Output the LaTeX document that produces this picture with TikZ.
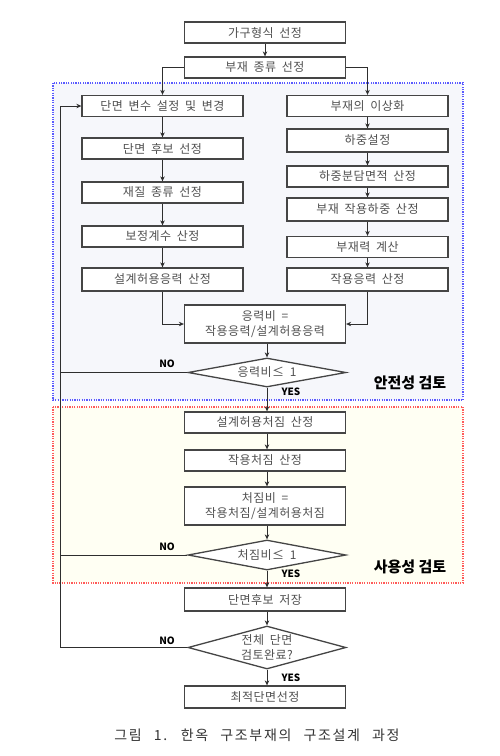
\documentclass[tikz,border=0pt]{standalone}
\usepackage{fontspec}
\setmainfont{Noto Sans CJK KR}
\newfontfamily\capfont[LetterSpace=12, WordSpace=2.5]{Noto Sans CJK KR}
\newfontfamily\boxfont[LetterSpace=4, WordSpace=1.8]{Noto Sans CJK KR}
\usetikzlibrary{arrows.meta,shapes.geometric}
\definecolor{boxline}{HTML}{454545}
\definecolor{boxtext}{HTML}{505050}
\definecolor{lineclr}{HTML}{2E2E2E}
\definecolor{bluefill}{HTML}{F6F7FB}
\definecolor{redfill}{HTML}{FFFFF3}
\definecolor{blueline}{HTML}{5A5AFF}
\definecolor{redline}{HTML}{FF5A5A}
\tikzset{
  procbox/.style={draw=boxline, line width=1.3pt, fill=white, minimum width=161pt, minimum height=21pt, inner sep=0pt, text=boxtext, font=\boxfont\fontsize{12}{14.5}\selectfont, align=center},
  decbox/.style={draw=boxline, line width=1.3pt, fill=white, diamond, inner sep=0pt},
  dectext/.style={text=boxtext, font=\boxfont\fontsize{12}{14.5}\selectfont, align=center, inner sep=0pt},
  flow/.style={draw=lineclr, line width=1pt, -{Stealth[length=5pt,width=4.5pt]}},
  plain/.style={draw=lineclr, line width=1pt},
  yn/.style={font=\bfseries\fontsize{10}{12}\selectfont, text=black, inner sep=0pt},
  region/.style={line width=1.4pt, dash pattern=on 1.2pt off 1.2pt},
  regtitle/.style={font=\bfseries\fontsize{15}{17}\selectfont, text=black, inner sep=0pt},
}
\begin{document}
\begin{tikzpicture}[x=1pt,y=-1pt]
\useasboundingbox (0,0) rectangle (500,756);
\fill[white] (0,0) rectangle (500,756);
% regions
\draw[region, draw=blueline, fill=bluefill] (53,83) rectangle (463,400);
\draw[region, draw=redline, fill=redfill] (53,407) rectangle (463,583);
\node[regtitle] (reg1) at (410,383) {안전성 검토};
\node[regtitle] (reg2) at (410,567) {사용성 검토};
% top
\node[procbox] (t1) at (265,32.5) {가구형식 선정};
\node[procbox] (t2) at (265,67.5) {부재 종류 선정};
% left column
\node[procbox] (l1) at (162.5,106) {단면 변수 설정 및 변경};
\node[procbox] (l2) at (162.5,148.5) {단면 후보 선정};
\node[procbox] (l3) at (162.5,192.5) {재질 종류 선정};
\node[procbox] (l4) at (162.5,236.5) {보정계수 산정};
\node[procbox, minimum height=23pt] (l5) at (162.5,279.5) {설계허용응력 산정};
% right column
\node[procbox] (r1) at (367.5,106) {부재의 이상화};
\node[procbox, minimum height=23pt] (r2) at (367.5,140.5) {하중설정};
\node[procbox] (r3) at (367.5,176.5) {하중분담면적 산정};
\node[procbox, minimum height=23pt] (r4) at (367.5,209.5) {부재 작용하중 산정};
\node[procbox] (r5) at (367.5,247) {부재력 계산};
\node[procbox, minimum height=23pt] (r6) at (367.5,279.5) {작용응력 산정};
% stress ratio
\node[procbox, minimum height=38pt] (s) at (265,324) {응력비 =\\작용응력/설계허용응력};
\node[decbox, minimum width=158pt, minimum height=29pt] (d1) at (267,372.5) {};
\node[dectext] (d1t) at (267,372.5) {응력비≤ 1};
% serviceability
\node[procbox] (b1) at (265,422.5) {설계허용처짐 산정};
\node[procbox] (b2) at (265,460.5) {작용처짐 산정};
\node[procbox, minimum height=38pt] (b3) at (265,506) {처짐비 =\\작용처짐/설계허용처짐};
\node[decbox, minimum width=158pt, minimum height=30pt] (d2) at (267,555) {};
\node[dectext] (d2t) at (267,555) {처짐비≤ 1};
% end
\node[procbox, minimum height=23pt] (c1) at (265,599.5) {단면후보 저장};
\node[decbox, minimum width=158pt, minimum height=43pt] (d3) at (267,647.5) {};
\node[dectext] (d3t) at (267,647.5) {전체 단면\\검토완료?};
\node[procbox, minimum height=22pt] (c2) at (265,697) {최적단면선정};
% caption
\node[font=\capfont\fontsize{14}{16}\selectfont, text=black!80, inner sep=0pt] (cap) at (257,735) {그림 1. 한옥 구조부재의 구조설계 과정};
% connectors
\draw[flow] (t1) -- (t2);
\coordinate (tl) at (162.5,67.5);
\coordinate (tr) at (367.5,67.5);
\draw[flow] (t2.west) -- (tl) -- (l1.north);
\draw[flow] (t2.east) -- (tr) -- (r1.north);
\draw[flow] (l1) -- (l2);
\draw[flow] (l2) -- (l3);
\draw[flow] (l3) -- (l4);
\draw[flow] (l4) -- (l5);
\draw[flow] (r1) -- (r2);
\draw[flow] (r2) -- (r3);
\draw[flow] (r3) -- (r4);
\draw[flow] (r4) -- (r5);
\draw[flow] (r5) -- (r6);
\coordinate (sl) at (162.5,324);
\coordinate (sr) at (367.5,324);
\draw[flow] (l5.south) -- (sl) -- (s.west);
\draw[flow] (r6.south) -- (sr) -- (s.east);
\draw[flow] (s.south -| d1.north) -- (d1.north);
\draw[flow] (d1.south) -- (b1.north -| d1.south);
\draw[flow] (b1.south -| d1.south) -- (b2.north -| d1.south);
\draw[flow] (b2.south -| d1.south) -- (b3.north -| d1.south);
\draw[flow] (b3.south -| d2.north) -- (d2.north);
\draw[flow] (d2.south) -- (c1.north -| d2.south);
\draw[flow] (c1.south -| d3.north) -- (d3.north);
\draw[flow] (d3.south) -- (c2.north -| d3.south);
% NO loop
\coordinate (n1) at (60,372.5);
\coordinate (n2) at (60,555);
\coordinate (n3) at (60,647.5);
\coordinate (ntop) at (60,106);
\draw[plain] (d1.west) -- (n1);
\draw[plain] (d2.west) -- (n2);
\draw[plain] (d3.west) -- (n3);
\draw[flow] (n3) -- (ntop) -- (l1.west);
% labels
\node[yn] (no1) at (167,364) {NO};
\node[yn] (no2) at (167,547) {NO};
\node[yn] (no3) at (167,641) {NO};
\node[yn] (yes1) at (291,392) {YES};
\node[yn] (yes2) at (291,574) {YES};
\node[yn] (yes3) at (291,678) {YES};
\end{tikzpicture}
\end{document}
